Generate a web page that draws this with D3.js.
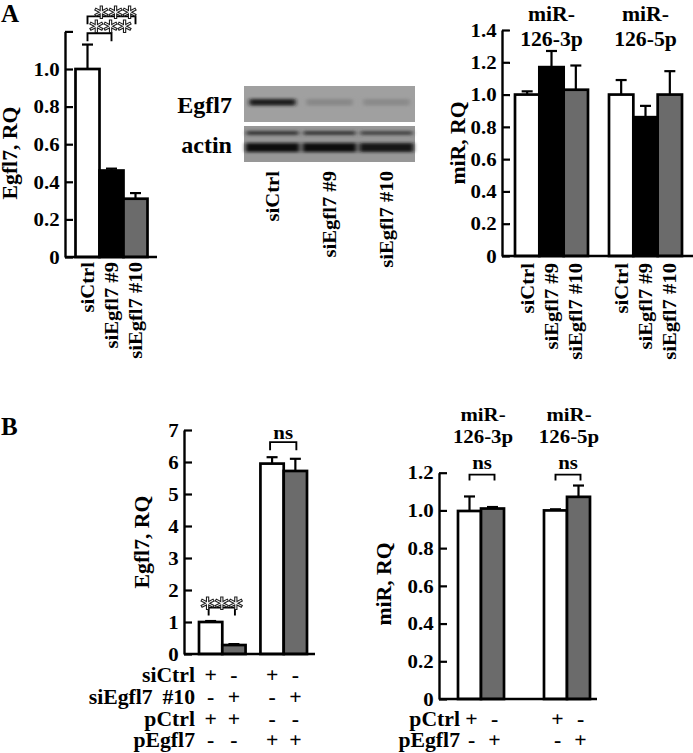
<!DOCTYPE html>
<html><head><meta charset="utf-8">
<script src="https://cdn.jsdelivr.net/npm/d3@7"></script>
<style>
html,body{margin:0;padding:0;background:#fff;}
svg{display:block;}
</style></head><body>
<svg id="c" width="693" height="753"></svg>
<script>
// ---------------- DATA ----------------
// Panel A, left: Egfl7 mRNA
const a1Categories = ["siCtrl", "siEgfl7 #9", "siEgfl7 #10"];
const a1Values = [1.0, 0.46, 0.31];
const a1Errors = [0.13, 0.01, 0.03];
const a1Ticks = [0, 0.2, 0.4, 0.6, 0.8, 1.0, 1.2];
const a1TickLabels = ["0", "0.2", "0.4", "0.6", "0.8", "1.0", ""];
const a1Sig = [
  { from: 0, to: 1, level: 1.19, label: "***", dx: 11, dy: 7 },
  { from: 0, to: 2, level: 1.28, label: "***", dx: 4, dy: 10 }
];

// Panel A, middle: western blot
const blotLanes = ["siCtrl", "siEgfl7 #9", "siEgfl7 #10"];
const blotRows = ["Egfl7", "actin"];
const blotEgfl7 = [0.92, 0.12, 0.1];
const blotActinUpper = [0.72, 0.7, 0.62];
const blotActinLower = [1.0, 1.0, 0.98];

// Panel A, right: miR levels
const a3Groups = ["miR-126-3p", "miR-126-5p"];
const a3Categories = ["siCtrl", "siEgfl7 #9", "siEgfl7 #10"];
const a3Values3p = [1.0, 1.17, 1.03];
const a3Errors3p = [0.02, 0.10, 0.15];
const a3Values5p = [1.0, 0.86, 1.0];
const a3Errors5p = [0.09, 0.07, 0.145];
const a3Ticks = [0, 0.2, 0.4, 0.6, 0.8, 1.0, 1.2, 1.4];
const a3TickLabels = ["0", "0.2", "0.4", "0.6", "0.8", "1.0", "1.2", "1.4"];

// Panel B, left: Egfl7 mRNA
const b1Groups = ["pCtrl", "pEgfl7"];
const b1Categories = ["siCtrl", "siEgfl7 #10"];
const b1ValuesPCtrl = [1.0, 0.28];
const b1ErrorsPCtrl = [0.03, 0.03];
const b1ValuesPEgfl7 = [5.95, 5.72];
const b1ErrorsPEgfl7 = [0.2, 0.38];
const b1Ticks = [0, 1, 2, 3, 4, 5, 6, 7];
const b1TickLabels = ["0", "1", "2", "3", "4", "5", "6", "7"];
const b1Sig = [
  { group: 0, level: 1.45, label: "***", kind: "star" },
  { group: 1, level: 6.62, label: "ns", kind: "ns" }
];
const b1TableRows = ["siCtrl", "siEgfl7 #10", "pCtrl", "pEgfl7"];
const b1TableSigns = [
  ["+", "-", "+", "-"],
  ["-", "+", "-", "+"],
  ["+", "+", "-", "-"],
  ["-", "-", "+", "+"]
];

// Panel B, right: miR levels
const b2Groups = ["miR-126-3p", "miR-126-5p"];
const b2Categories = ["pCtrl", "pEgfl7"];
const b2Values3p = [0.997, 1.01];
const b2Errors3p = [0.077, 0.008];
const b2Values5p = [1.0, 1.072];
const b2Errors5p = [0.006, 0.06];
const b2Ticks = [0, 0.2, 0.4, 0.6, 0.8, 1.0, 1.2];
const b2TickLabels = ["0", "0.2", "0.4", "0.6", "0.8", "1.0", "1.2"];
const b2Sig = [
  { group: 0, level: 1.19, label: "ns" },
  { group: 1, level: 1.19, label: "ns" }
];
const b2TableRows = ["pCtrl", "pEgfl7"];
const b2TableSigns = [
  ["+", "-", "+", "-"],
  ["-", "+", "-", "+"]
];

// ---------------- STYLE ----------------
const FONT = '"Liberation Serif","Times New Roman",serif';
const SX = 1.07;
const GRAY = "#6b6b6b";
const fillFor = {
  "siCtrl": "#ffffff", "siEgfl7 #9": "#000000", "siEgfl7 #10": GRAY,
  "pCtrl": "#ffffff", "pEgfl7": GRAY
};
const svg = d3.select("#c");

function label(g, s, x, y, o = {}) {
  const t = g.append("text")
    .attr("transform", `translate(${x},${y})` + (o.rot ? ` rotate(${o.rot})` : "") + ` scale(${o.sx ?? SX},1)`)
    .attr("text-anchor", o.anchor || "start")
    .style("font-family", o.font || FONT).style("font-weight", "bold")
    .style("font-size", (o.size || 19.3) + "px")
    .style("fill", o.fill || "#000")
    .text(s);
  if (o.stroke) t.style("stroke", o.stroke).style("stroke-width", o.sw || 1);
  if (o.opacity) t.style("opacity", o.opacity);
  if (o.ws) t.style("word-spacing", o.ws + "px");
  return t;
}

function yAxis(y, x0, ticks, labels) {
  const ax = d3.axisLeft(y).tickValues(ticks)
    .tickFormat((d, i) => labels[i])
    .tickSizeInner(-8).tickSizeOuter(0).tickPadding(5);
  const a = svg.append("g").attr("transform", `translate(${x0},0)`).call(ax);
  a.attr("font-family", null).attr("font-size", null);
  a.select(".domain").attr("stroke", "#000").attr("stroke-width", 2.4);
  a.selectAll(".tick line").attr("stroke", "#000").attr("stroke-width", 2.2);
  a.selectAll(".tick text")
    .style("font-family", FONT).style("font-weight", "bold").style("font-size", "19.5px")
    .attr("fill", "#000")
    .attr("transform", `scale(${SX},1)`);
  return a;
}

function xLine(x0, x1, yv) {
  svg.append("line").attr("x1", x0).attr("x2", x1).attr("y1", yv).attr("y2", yv)
    .attr("stroke", "#000").attr("stroke-width", 2.4);
}

function drawBars(items, y) {
  const g = svg.append("g");
  g.selectAll("line.err").data(items).join("line")
    .attr("x1", d => d.x + d.w / 2).attr("x2", d => d.x + d.w / 2)
    .attr("y1", d => y(d.v)).attr("y2", d => y(d.v + d.e))
    .attr("stroke", "#000").attr("stroke-width", 2.2);
  g.selectAll("line.cap").data(items).join("line")
    .attr("x1", d => d.x + d.w / 2 - 5.5).attr("x2", d => d.x + d.w / 2 + 5.5)
    .attr("y1", d => y(d.v + d.e)).attr("y2", d => y(d.v + d.e))
    .attr("stroke", "#000").attr("stroke-width", 2.2);
  g.selectAll("rect").data(items).join("rect")
    .attr("x", d => d.x).attr("width", d => d.w)
    .attr("y", d => y(d.v)).attr("height", d => y(0) - y(d.v))
    .attr("fill", d => fillFor[d.cat]).attr("stroke", "#000").attr("stroke-width", 2.7);
}

function bracket(x1, x2, yb, drop) {
  svg.append("path")
    .attr("d", `M${x1},${yb + drop}V${yb}H${x2}V${yb + drop}`)
    .attr("fill", "none").attr("stroke", "#000").attr("stroke-width", 1.9);
}

function stars(s, x, y) {
  label(svg, s, x, y, { anchor: "middle", size: 27, sx: 1, font: '"DejaVu Sans",sans-serif',
    fill: "#ffffff", stroke: "#1a1a1a", sw: 1.1, opacity: 0.99 });
}

// ---------------- PANEL LABELS ----------------
label(svg, "A", 1, 22, { size: 25, sx: 1 });
label(svg, "B", 1, 435, { size: 25, sx: 1 });

// ---------------- PANEL A1 ----------------
{
  const y = d3.scaleLinear().domain([0, 1.2]).range([257, 31.4]);
  const x = d3.scaleBand().domain(a1Categories).range([75.5, 147.5]).paddingInner(0);
  const items = a1Categories.map((c, i) => ({ x: x(c), w: x.bandwidth(), v: a1Values[i], e: a1Errors[i], cat: c }));
  drawBars(items, y);
  yAxis(y, 65, a1Ticks, a1TickLabels);
  xLine(65, 157, y(0));
  a1Categories.forEach(c => label(svg, c, x(c) + x.bandwidth() / 2 + 6.5, 262, { rot: -90, anchor: "end" }));
  label(svg, "Egfl7, RQ", 17, 153, { rot: -90, anchor: "middle", size: 20.3 });
  a1Sig.forEach(s => {
    const xa = x(a1Categories[s.from]) + x.bandwidth() / 2;
    const xb = x(a1Categories[s.to]) + x.bandwidth() / 2;
    bracket(xa, xb, y(s.level), 8);
  });
  a1Sig.forEach(s => {
    const xa = x(a1Categories[s.from]) + x.bandwidth() / 2;
    const xb = x(a1Categories[s.to]) + x.bandwidth() / 2;
    stars(s.label, (xa + xb) / 2 + s.dx, y(s.level) + s.dy);
  });
}

// ---------------- PANEL A2 (blot) ----------------
{
  const defs = svg.append("defs");
  defs.append("filter").attr("id", "blur").attr("x", "-20%").attr("y", "-100%").attr("width", "140%").attr("height", "300%")
    .append("feGaussianBlur").attr("stdDeviation", "2.2 1.4");
  const lane = d3.scalePoint().domain(blotLanes).range([272.5, 386.5]);
  const laneW = 46;
  const bx0 = 244, bx1 = 415;
  const rowY = { "Egfl7": [86, 122], "actin": [126, 162] };
  svg.append("rect").attr("x", bx0).attr("y", rowY.Egfl7[0]).attr("width", bx1 - bx0).attr("height", rowY.Egfl7[1] - rowY.Egfl7[0]).attr("fill", "#a0a0a0");
  svg.append("rect").attr("x", bx0).attr("y", rowY.actin[0]).attr("width", bx1 - bx0).attr("height", rowY.actin[1] - rowY.actin[0]).attr("fill", "#979797");
  const bandCol = d3.scaleLinear().domain([0, 1]).range(["#989898", "#101010"]);
  const gb = svg.append("g").attr("filter", "url(#blur)");
  gb.selectAll("rect.e").data(blotLanes).join("rect")
    .attr("x", d => lane(d) - laneW / 2).attr("width", laneW)
    .attr("y", 99).attr("height", 6.5)
    .attr("fill", (d, i) => bandCol(blotEgfl7[i]));
  gb.selectAll("rect.u").data(blotLanes).join("rect")
    .attr("x", d => lane(d) - laneW / 2 - 3).attr("width", laneW + 6)
    .attr("y", 131).attr("height", 4)
    .attr("fill", (d, i) => bandCol(blotActinUpper[i]));
  gb.selectAll("rect.l").data(blotLanes).join("rect")
    .attr("x", d => lane(d) - laneW / 2 - 4).attr("width", laneW + 8)
    .attr("y", 143).attr("height", 9)
    .attr("fill", (d, i) => bandCol(blotActinLower[i]));
  label(svg, blotRows[0], 232, 113, { anchor: "end", size: 22.5 });
  label(svg, blotRows[1], 232, 153, { anchor: "end", size: 22.5 });
  blotLanes.forEach(l => label(svg, l, lane(l) + 6.5, 171, { rot: -90, anchor: "end" }));
}

// ---------------- PANEL A3 ----------------
{
  const y = d3.scaleLinear().domain([0, 1.4]).range([256, 30]);
  const gx = d3.scaleBand().domain(a3Groups).range([515, 682]).paddingInner(0.2234).paddingOuter(0);
  const ix = d3.scaleBand().domain(a3Categories).range([0, gx.bandwidth()]);
  const vals = [a3Values3p, a3Values5p], errs = [a3Errors3p, a3Errors5p];
  const items = [];
  a3Groups.forEach((g, gi) => a3Categories.forEach((c, ci) =>
    items.push({ x: gx(g) + ix(c), w: ix.bandwidth(), v: vals[gi][ci], e: errs[gi][ci], cat: c })));
  drawBars(items, y);
  yAxis(y, 502, a3Ticks, a3TickLabels);
  xLine(502, 693, y(0));
  items.forEach(d => label(svg, d.cat, d.x + d.w / 2 + 6.5, 263, { rot: -90, anchor: "end" }));
  a3Groups.forEach(g => {
    const cx = gx(g) + gx.bandwidth() / 2;
    label(svg, g.slice(0, 4), cx, 21, { anchor: "middle", size: 20.3 });
    label(svg, g.slice(4), cx, 46, { anchor: "middle", size: 20.3 });
  });
  label(svg, "miR, RQ", 465, 143, { rot: -90, anchor: "middle", size: 20.3 });
}

// ---------------- PANEL B1 ----------------
{
  const y = d3.scaleLinear().domain([0, 7]).range([654, 430]);
  const gx = d3.scaleBand().domain(b1Groups).range([199, 307]).paddingInner(0.242).paddingOuter(0);
  const ix = d3.scaleBand().domain(b1Categories).range([0, gx.bandwidth()]);
  const vals = [b1ValuesPCtrl, b1ValuesPEgfl7], errs = [b1ErrorsPCtrl, b1ErrorsPEgfl7];
  const items = [];
  b1Groups.forEach((g, gi) => b1Categories.forEach((c, ci) =>
    items.push({ x: gx(g) + ix(c), w: ix.bandwidth(), v: vals[gi][ci], e: errs[gi][ci], cat: c })));
  drawBars(items, y);
  yAxis(y, 184, b1Ticks, b1TickLabels);
  xLine(184, 315, y(0));
  label(svg, "Egfl7, RQ", 149, 542, { rot: -90, anchor: "middle", size: 20.3 });
  b1Sig.forEach(s => {
    const g = b1Groups[s.group];
    const xa = gx(g) + ix(b1Categories[0]) + ix.bandwidth() / 2 - 2;
    const xb = gx(g) + ix(b1Categories[1]) + ix.bandwidth() / 2 + 1;
    const yb = y(s.level);
    bracket(xa, xb, yb, 8);
    if (s.kind === "star") stars(s.label, (xa + xb) / 2, yb + 9.5);
    else label(svg, s.label, (xa + xb) / 2, yb - 3, { anchor: "middle", size: 19.5 });
  });
  const rowBase = [682, 704, 726, 747];
  b1TableRows.forEach((r, ri) => {
    label(svg, r, 195, rowBase[ri], { anchor: "end", size: 20.3, ws: 4 });
    items.forEach((d, ci) => label(svg, b1TableSigns[ri][ci], d.x + d.w / 2, rowBase[ri], { anchor: "middle", size: 20.3 }));
  });
}

// ---------------- PANEL B2 ----------------
{
  const y = d3.scaleLinear().domain([0, 1.2]).range([699, 472.7]);
  const gx = d3.scaleBand().domain(b2Groups).range([458, 590]).paddingInner(0.465).paddingOuter(0);
  const ix = d3.scaleBand().domain(b2Categories).range([0, gx.bandwidth()]);
  const vals = [b2Values3p, b2Values5p], errs = [b2Errors3p, b2Errors5p];
  const items = [];
  b2Groups.forEach((g, gi) => b2Categories.forEach((c, ci) =>
    items.push({ x: gx(g) + ix(c), w: ix.bandwidth(), v: vals[gi][ci], e: errs[gi][ci], cat: c })));
  drawBars(items, y);
  yAxis(y, 439, b2Ticks, b2TickLabels);
  xLine(439, 597, y(0));
  label(svg, "miR, RQ", 391, 584, { rot: -90, anchor: "middle", size: 20.3 });
  b2Groups.forEach(g => {
    const cx = gx(g) + gx.bandwidth() / 2;
    label(svg, g.slice(0, 4), cx + 2, 421, { anchor: "middle", size: 19.5 });
    label(svg, g.slice(4), cx + 2, 443, { anchor: "middle", size: 19.5 });
  });
  b2Sig.forEach(s => {
    const g = b2Groups[s.group];
    const xa = gx(g) + ix(b2Categories[0]) + ix.bandwidth() / 2;
    const xb = gx(g) + ix(b2Categories[1]) + ix.bandwidth() / 2 + 2;
    const yb = y(s.level);
    bracket(xa, xb, yb, 6);
    label(svg, s.label, (xa + xb) / 2, yb - 6, { anchor: "middle", size: 19.5 });
  });
  const rowBase = [726, 747];
  b2TableRows.forEach((r, ri) => {
    label(svg, r, 460, rowBase[ri], { anchor: "end", size: 20.3 });
    items.forEach((d, ci) => label(svg, b2TableSigns[ri][ci], d.x + d.w / 2 + 2, rowBase[ri], { anchor: "middle", size: 20.3 }));
  });
}
</script>
</body></html>
